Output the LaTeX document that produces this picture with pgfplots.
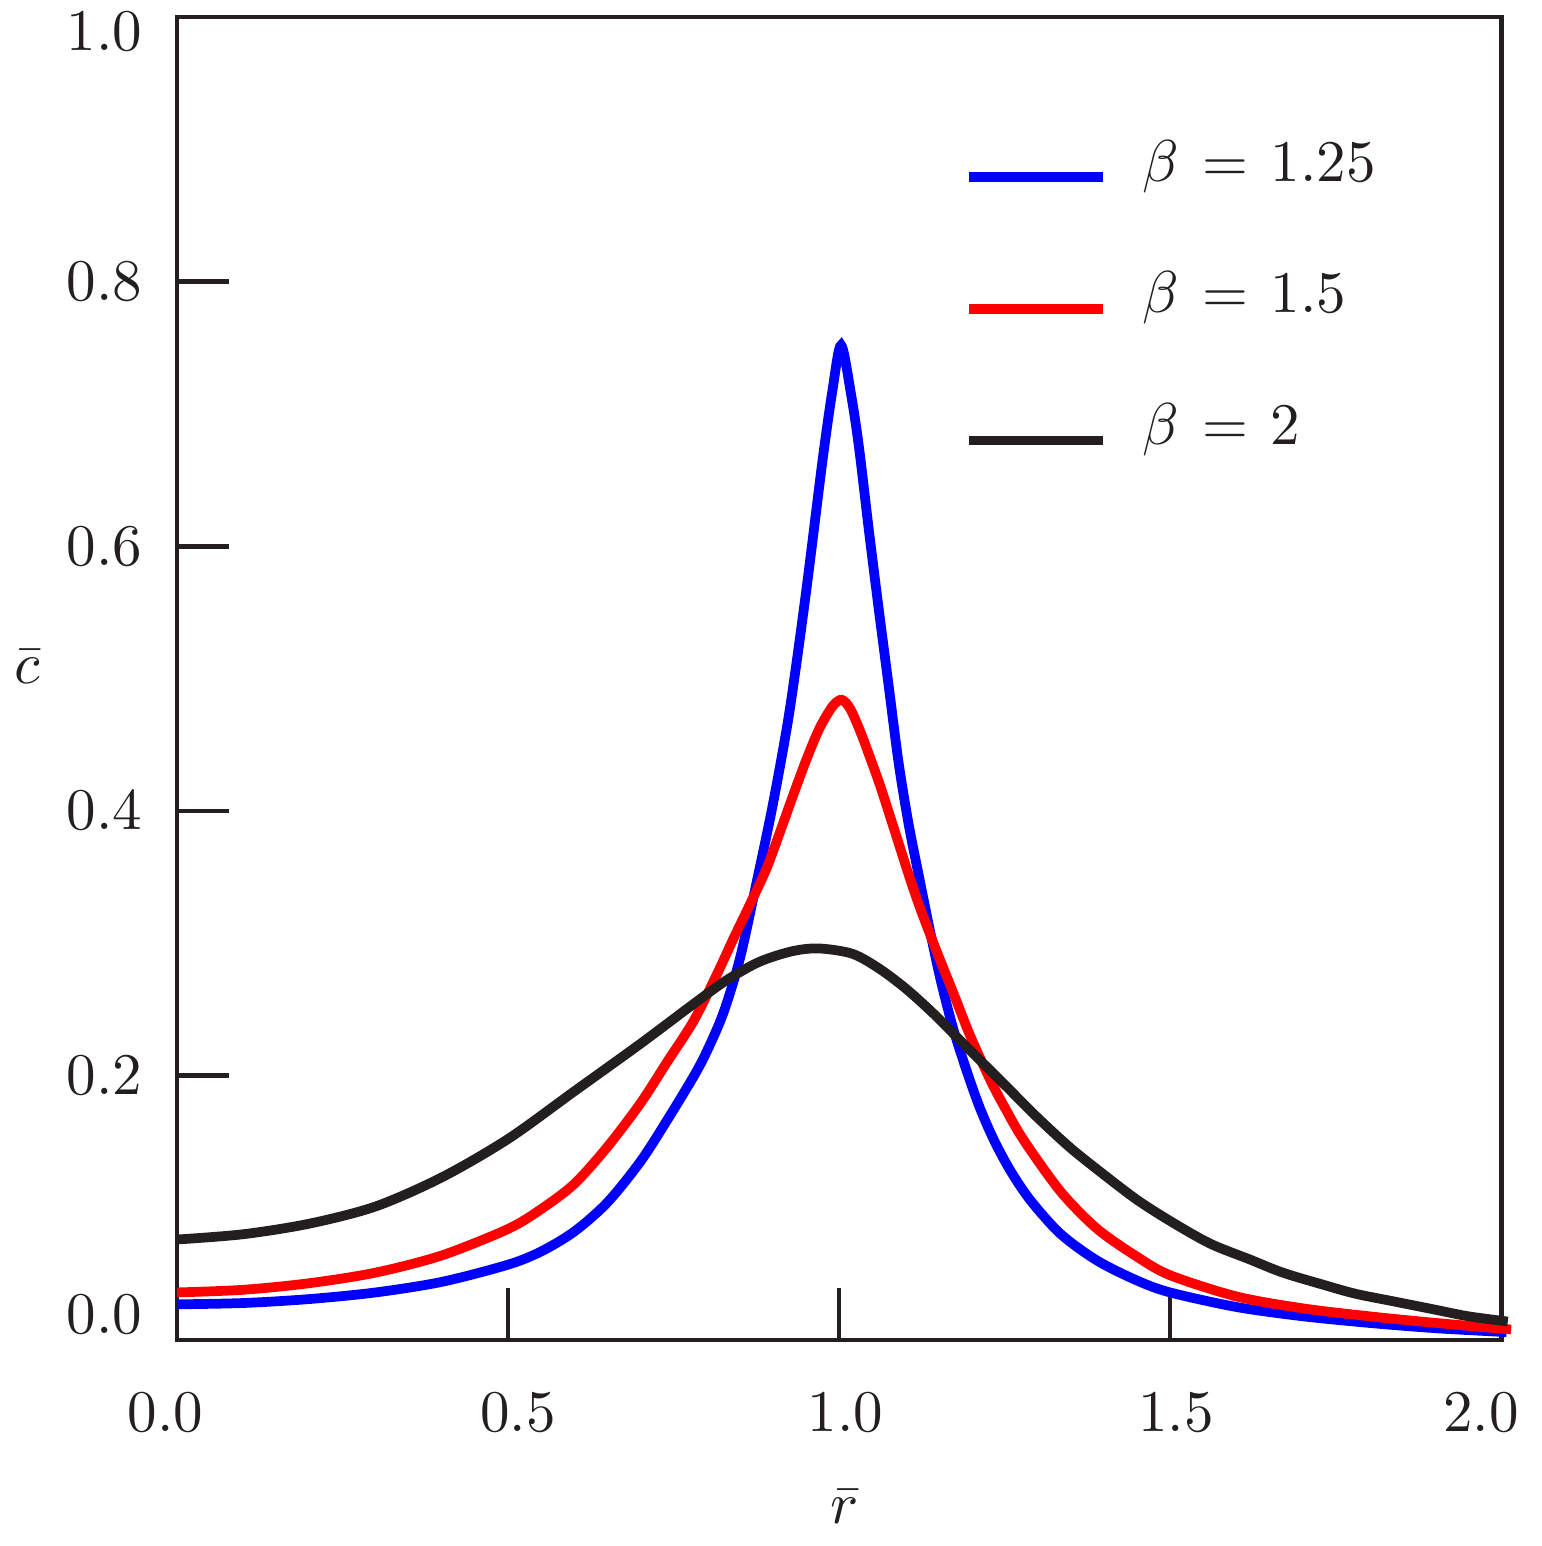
\documentclass[border=0pt]{standalone}
\usepackage{pgfplots}
\pgfplotsset{compat=1.18}
\definecolor{axisgray}{HTML}{231F20}
\definecolor{cblue}{RGB}{0,0,255}
\definecolor{cred}{RGB}{255,0,0}

\pgfplotstableread{
r c
0.000 0.027
0.100 0.028
0.200 0.031
0.300 0.036
0.400 0.044
0.500 0.057
0.550 0.067
0.600 0.082
0.650 0.104
0.700 0.135
0.740 0.166
0.780 0.199
0.800 0.218
0.825 0.247
0.850 0.288
0.875 0.345
0.900 0.405
0.925 0.475
0.950 0.565
0.975 0.665
0.990 0.718
1.003 0.752
1.018 0.715
1.030 0.675
1.045 0.612
1.060 0.552
1.075 0.494
1.090 0.436
1.105 0.390
1.120 0.352
1.137 0.310
1.153 0.273
1.172 0.236
1.193 0.203
1.213 0.175
1.235 0.150
1.260 0.127
1.290 0.105
1.335 0.080
1.390 0.060
1.450 0.045
1.500 0.036
1.600 0.025
1.700 0.018
1.800 0.013
1.900 0.009
2.008 0.006
}\bluedata

\pgfplotstableread{
r c
0.000 0.036
0.100 0.038
0.200 0.043
0.300 0.051
0.400 0.064
0.500 0.084
0.550 0.099
0.600 0.118
0.650 0.146
0.700 0.179
0.740 0.210
0.780 0.241
0.815 0.276
0.840 0.303
0.865 0.329
0.890 0.356
0.910 0.383
0.930 0.411
0.950 0.438
0.970 0.462
0.990 0.479
1.004 0.484
1.017 0.477
1.032 0.460
1.047 0.440
1.062 0.419
1.082 0.388
1.103 0.355
1.122 0.327
1.148 0.293
1.172 0.263
1.198 0.230
1.228 0.197
1.250 0.176
1.279 0.151
1.335 0.112
1.390 0.084
1.450 0.063
1.500 0.049
1.600 0.033
1.700 0.024
1.800 0.018
1.900 0.013
2.015 0.008
}\reddata

\pgfplotstableread{
r c
0.000 0.076
0.100 0.080
0.200 0.088
0.300 0.101
0.400 0.123
0.500 0.152
0.600 0.188
0.700 0.224
0.780 0.254
0.830 0.272
0.880 0.286
0.930 0.294
0.970 0.296
1.020 0.292
1.060 0.281
1.100 0.266
1.140 0.248
1.180 0.228
1.220 0.208
1.260 0.188
1.300 0.168
1.350 0.145
1.400 0.125
1.450 0.106
1.500 0.090
1.560 0.073
1.620 0.061
1.670 0.051
1.730 0.042
1.780 0.035
1.840 0.029
1.900 0.023
1.950 0.018
2.010 0.014
}\blackdata

\begin{document}
\begin{tikzpicture}
\useasboundingbox (-30pt,-34.9pt) rectangle (231.2pt,227.1pt);
\begin{axis}[
  scale only axis,
  width=224.4pt, height=224.2pt,
  xmin=0, xmax=2, ymin=0, ymax=1,
  clip=false,
  axis line style={axisgray, line width=0.8pt},
  every tick/.style={axisgray, line width=0.8pt},
  major tick length=8.8pt,
  tick align=inside,
  tick pos=left,
  xtick={0,0.5,1,1.5,2},
  xticklabels={{\kern-2pt$0.0$\kern2pt},{\kern1.7pt$0.5$\kern-1.7pt},{\kern1.1pt$1.0$\kern-1.1pt},{\kern1pt$1.5$\kern-1pt},{\kern-3.4pt$2.0$\kern3.4pt}},
  ytick={0,0.2,0.4,0.6,0.8,1},
  yticklabels={{\raisebox{4.4pt}[\height][\depth]{$0.0$}},$0.2$,$0.4$,$0.6$,$0.8$,{\raisebox{-2.4pt}[\height][\depth]{$1.0$}}},
  xticklabel style={yshift=-5.5pt, text=axisgray},
  yticklabel style={xshift=-2.4pt, text=axisgray},
  xlabel={$\bar{r}$},
  ylabel={$\bar{c}$},
  every axis x label/.style={at={(axis description cs:0.5045,-0.126)}, anchor=center, text=axisgray},
  every axis y label/.style={at={(axis description cs:-0.1133,0.509)}, anchor=center, text=axisgray},
  legend style={draw=none, fill=none, inner sep=0pt, at={(axis cs:1.187,0.9168)}, anchor=north west,
    row sep=5.9pt, nodes={text height=6.94pt, text depth=5.5pt, text=axisgray}},
  legend cell align=left,
  legend image code/.code={\draw[#1] (0pt,0pt) -- (22.7pt,0pt); \path (26.6pt,0pt);},
]
\addplot[cblue, line width=1.65pt, smooth, tension=0.5] table[x=r, y=c] {\bluedata};
\addlegendentry{$\beta\mskip7mu{=}\mskip7mu1.25$}
\addplot[cred, line width=1.65pt, smooth, tension=0.5] table[x=r, y=c] {\reddata};
\addlegendentry{$\beta\mskip7mu{=}\mskip7mu1.5$}
\addplot[axisgray, line width=1.65pt, smooth, tension=0.5] table[x=r, y=c] {\blackdata};
\addlegendentry{$\beta\mskip7mu{=}\mskip7mu2$}
\end{axis}
\end{tikzpicture}
\end{document}
